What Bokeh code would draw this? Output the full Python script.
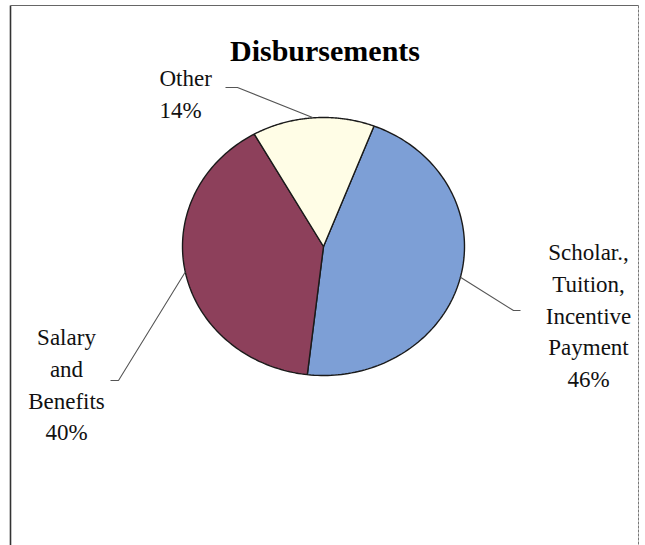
import numpy as np
from bokeh.plotting import figure
from bokeh.models import Range1d, ColumnDataSource
from bokeh.core.properties import value
from bokeh.embed import file_html
from bokeh.resources import INLINE

# ---------------- data ----------------
title_text = "Disbursements"
categories = ["Scholar.,\nTuition,\nIncentive\nPayment", "Salary\nand\nBenefits", "Other"]
values = [46, 40, 14]
slice_colors = ["#7d9fd6", "#8d405b", "#fffde6"]

# ---------------- layout (pixel space) ----------------
W, H = 645, 545
cx, cy, rx, ry = 323, 246, 141, 129
first_angle = 21.0  # degrees clockwise from 12 o'clock
font = "Liberation Serif"
fs = "23px"
line_gap = 31.8

# label anchor: (x, first baseline, align)
label_pos = [(588, 252, "center"), (66, 337, "center"), (159, 78, "left")]
# leader elbows: (elbow x, elbow y, end x, end y)
leader_pts = [(513, 310, 520, 310), (118, 380, 110, 380), (237, 87, 225, 87)]

p = figure(width=W, height=H, x_range=Range1d(0, W), y_range=Range1d(H, 0),
           output_backend="svg", toolbar_location=None, min_border=0,
           background_fill_color="white", border_fill_color="white")
p.axis.visible = False
p.grid.visible = False
p.outline_line_color = None

# frame
p.line([10, 10], [5, H], line_color="#333333", line_width=1.6)
p.line([10, 638], [5, 5], line_color="#666666", line_width=1.0)
p.line([638, 638], [5, H], line_color="#777777", line_width=1.0, line_dash="3 1")

# pie slices
total = float(sum(values))
fr = np.array(values) / total
starts = first_angle + 360 * np.concatenate([[0], np.cumsum(fr)[:-1]])
ends = starts + 360 * fr

xs, ys = [], []
for a0, a1 in zip(starts, ends):
    t = np.radians(np.linspace(a0, a1, 120))
    xs.append(np.concatenate([[cx], cx + rx * np.sin(t), [cx]]))
    ys.append(np.concatenate([[cy], cy - ry * np.cos(t), [cy]]))
p.patches(xs, ys, fill_color=slice_colors, line_color="#1a1a1a", line_width=1.4)

# leader lines + labels
tx, ty, tt, ta = [], [], [], []
for i, (cat, v) in enumerate(zip(categories, values)):
    mid = np.radians((starts[i] + ends[i]) / 2)
    sx, sy = cx + rx * np.sin(mid), cy - ry * np.cos(mid)
    ex, ey, fx, fy = leader_pts[i]
    p.line([sx, ex, fx], [sy, ey, fy], line_color="#555555", line_width=1.1)
    lines = cat.split("\n") + [f"{round(v / total * 100)}%"]
    x0, y0, al = label_pos[i]
    for k, ln in enumerate(lines):
        tx.append(x0); ty.append(y0 + k * line_gap); tt.append(ln); ta.append(al)

src = ColumnDataSource(dict(x=tx, y=ty, text=tt, align=ta))
p.text(x="x", y="y", text="text", source=src, text_align="align",
       text_baseline="alphabetic", text_font=value(font), text_font_size=fs,
       text_color="#111111")

# title
p.text(x=[324.5], y=[50], text=[title_text], text_align="center",
       text_baseline="alphabetic", text_font=value(font), text_font_size="30px",
       text_font_style="bold", text_color="#000000")

open("out.html", "w").write(file_html(p, INLINE))
